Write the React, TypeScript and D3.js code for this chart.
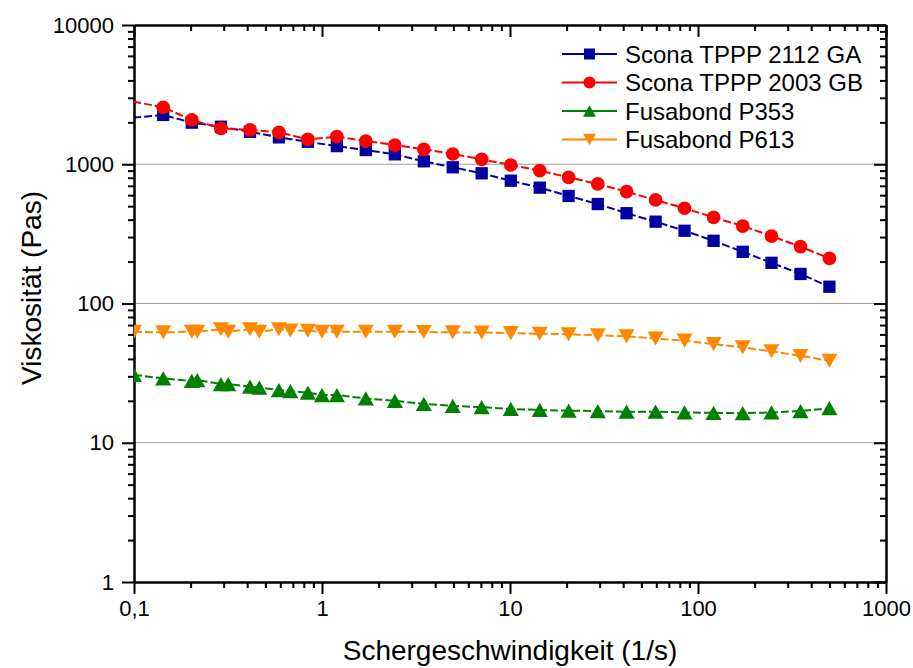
import React, { useEffect, useRef } from 'react';
import * as d3 from 'd3';

// shear rate (1/s) and viscosity (Pas)
const rateScona = [0.099, 0.143, 0.203, 0.29, 0.414, 0.59, 0.841, 1.2, 1.71, 2.44, 3.48, 4.96, 7.07, 10.1, 14.4, 20.5, 29.3, 41.7, 59.5, 84.8, 121, 173, 246, 351, 500];
const viscScona2112 = [2160, 2260, 1990, 1860, 1710, 1560, 1450, 1350, 1265, 1178, 1050, 951, 861, 762, 679, 592, 518, 445, 387, 333, 282, 235, 196, 163, 132];
const viscScona2003 = [2820, 2565, 2080, 1812, 1763, 1695, 1510, 1578, 1468, 1374, 1280, 1185, 1085, 988, 899, 806, 722, 635, 554, 483, 416, 360, 305, 256, 211];

const rateFusabond = [0.1, 0.143, 0.203, 0.217, 0.29, 0.317, 0.414, 0.464, 0.59, 0.679, 0.841, 1.0, 1.2, 1.71, 2.44, 3.48, 4.96, 7.07, 10.1, 14.4, 20.5, 29.3, 41.7, 59.5, 84.8, 121, 173, 246, 351, 500];
const viscP353 = [30.7, 29.0, 27.8, 28.2, 26.4, 26.4, 25.3, 24.9, 23.9, 23.5, 22.9, 22.0, 22.0, 20.8, 20.0, 19.0, 18.4, 18.0, 17.5, 17.2, 17.0, 16.9, 16.7, 16.7, 16.5, 16.4, 16.3, 16.5, 16.9, 17.7];
const viscP613 = [62.7, 62.0, 62.7, 62.7, 65.3, 62.7, 65.3, 62.7, 65.3, 64.0, 63.7, 62.7, 62.7, 62.7, 62.7, 62.4, 62.0, 61.9, 61.3, 60.7, 60.1, 59.1, 58.1, 56.0, 54.1, 51.1, 48.4, 45.4, 42.0, 38.8];

const seriesNames = ['Scona TPPP 2112 GA', 'Scona TPPP 2003 GB', 'Fusabond P353', 'Fusabond P613'];
const seriesColors = ['#0000a0', '#ff0000', '#008000', '#ff8800'];
const seriesSymbols = ['square', 'circle', 'triangleUp', 'triangleDown'];

const xTicks = [0.1, 1, 10, 100, 1000];
const xTickLabels = ['0,1', '1', '10', '100', '1000'];
const yTicks = [1, 10, 100, 1000, 10000];
const yTickLabels = ['1', '10', '100', '1000', '10000'];

const W = 913;
const H = 668;
const left = 134, right = 886, top = 25, bottom = 582;
const FONT = "Arial, 'Liberation Sans', sans-serif";

// marker outline centred on its box; s = box width
function symbolPath(type: string, s: number) {
  const h = s / 2;
  if (type === 'square') return `M${-h},${-h}H${h}V${h}H${-h}Z`;
  if (type === 'circle') return d3.symbol(d3.symbolCircle, Math.PI * h * h)()!;
  const t = s * 0.44;
  if (type === 'triangleUp') return `M0,${-t}L${h},${t}L${-h},${t}Z`;
  return `M0,${t}L${h},${-t}L${-h},${-t}Z`;
}

const markerSize = [12.3, 13.7, 16.2, 16];
const legendMarkerSize = [11, 12, 13, 13];

const App: React.FC = () => {
  const svgRef = useRef<SVGSVGElement | null>(null);

  useEffect(() => {
    const svg = d3.select(svgRef.current);
    svg.selectAll('*').remove();

    const x = d3.scaleLog().domain([0.1, 1000]).range([left, right]);
    const y = d3.scaleLog().domain([1, 10000]).range([bottom, top]);

    const minor = (majors: number[]) =>
      majors.slice(0, -1).flatMap((d) => d3.range(2, 10).map((k) => k * d));

    svg.append('defs').append('clipPath').attr('id', 'plotclip')
      .append('rect').attr('x', left).attr('y', top).attr('width', right - left).attr('height', bottom - top);

    // grid
    svg.append('g').selectAll('line')
      .data([10, 100, 1000])
      .enter().append('line')
      .attr('x1', left).attr('x2', right)
      .attr('y1', (d) => y(d)).attr('y2', (d) => y(d))
      .attr('stroke', '#a0a0a0').attr('stroke-width', 1);

    const styleAxis = (g: any) => {
      g.select('.domain').attr('stroke', '#000').attr('stroke-width', 2);
      g.selectAll('.tick line').attr('stroke', '#000').attr('stroke-width', 2);
      g.selectAll('.tick text').attr('font-family', FONT).attr('font-size', 22).attr('fill', '#000');
    };

    // bottom
    svg.append('g').attr('transform', `translate(0,${bottom})`)
      .call(d3.axisBottom(x).tickValues(xTicks).tickSize(12).tickSizeOuter(0).tickPadding(6)
        .tickFormat((_, i) => xTickLabels[i]))
      .call(styleAxis);
    svg.append('g').attr('transform', `translate(0,${bottom})`)
      .call(d3.axisBottom(x).tickValues(minor(xTicks)).tickSize(6).tickSizeOuter(0).tickFormat(() => ''))
      .call(styleAxis);
    // top (inward)
    svg.append('g').attr('transform', `translate(0,${top})`)
      .call(d3.axisTop(x).tickValues(xTicks).tickSize(-12).tickSizeOuter(0).tickFormat(() => ''))
      .call(styleAxis);
    svg.append('g').attr('transform', `translate(0,${top})`)
      .call(d3.axisTop(x).tickValues(minor(xTicks)).tickSize(-6).tickSizeOuter(0).tickFormat(() => ''))
      .call(styleAxis);
    // left
    svg.append('g').attr('transform', `translate(${left},0)`)
      .call(d3.axisLeft(y).tickValues(yTicks).tickSize(12).tickSizeOuter(0).tickPadding(8)
        .tickFormat((_, i) => yTickLabels[i]))
      .call(styleAxis);
    svg.append('g').attr('transform', `translate(${left},0)`)
      .call(d3.axisLeft(y).tickValues(minor(yTicks)).tickSize(6).tickSizeOuter(0).tickFormat(() => ''))
      .call(styleAxis);
    // right (inward)
    svg.append('g').attr('transform', `translate(${right},0)`)
      .call(d3.axisRight(y).tickValues(yTicks).tickSize(-12).tickSizeOuter(0).tickFormat(() => ''))
      .call(styleAxis);
    svg.append('g').attr('transform', `translate(${right},0)`)
      .call(d3.axisRight(y).tickValues(minor(yTicks)).tickSize(-6).tickSizeOuter(0).tickFormat(() => ''))
      .call(styleAxis);

    // series
    const series = [
      { rate: rateScona, visc: viscScona2112 },
      { rate: rateScona, visc: viscScona2003 },
      { rate: rateFusabond, visc: viscP353 },
      { rate: rateFusabond, visc: viscP613 },
    ];
    const line = d3.line<[number, number]>().x((d) => x(d[0])).y((d) => y(d[1]));
    const plot = svg.append('g').attr('clip-path', 'url(#plotclip)');

    series.forEach((s, i) => {
      const pts: [number, number][] = s.rate.map((r, j) => [r, s.visc[j]]);
      plot.append('path').attr('d', line(pts))
        .attr('fill', 'none').attr('stroke', seriesColors[i]).attr('stroke-width', 2)
        .attr('stroke-dasharray', '8,3');
      plot.append('g').selectAll('path')
        .data(pts.filter((d) => d[0] >= 0.1))
        .enter().append('path')
        .attr('transform', (d) => `translate(${x(d[0])},${y(d[1])})`)
        .attr('d', symbolPath(seriesSymbols[i], markerSize[i]))
        .attr('fill', seriesColors[i]);
    });

    // legend
    const legend = svg.append('g');
    seriesNames.forEach((name, i) => {
      const ly = 54 + i * 28.5;
      legend.append('line').attr('x1', 562).attr('x2', 617).attr('y1', ly).attr('y2', ly)
        .attr('stroke', seriesColors[i]).attr('stroke-width', 2);
      legend.append('path').attr('transform', `translate(589.5,${ly})`)
        .attr('d', symbolPath(seriesSymbols[i], legendMarkerSize[i])).attr('fill', seriesColors[i]);
      legend.append('text').attr('x', 625).attr('y', ly).attr('dy', '0.36em')
        .attr('font-family', FONT).attr('font-size', 24).text(name);
    });

    // axis titles
    svg.append('text').attr('x', (left + right) / 2).attr('y', 660)
      .attr('text-anchor', 'middle').attr('font-family', FONT).attr('font-size', 28)
      .text('Schergeschwindigkeit (1/s)');
    svg.append('text').attr('transform', `translate(41,288) rotate(-90)`)
      .attr('text-anchor', 'middle').attr('font-family', FONT).attr('font-size', 28)
      .text('Viskosität (Pas)');
  }, []);

  return (
    <svg ref={svgRef} width={W} height={H}
      style={{ position: 'absolute', left: 0, top: 0, background: '#fff' }} />
  );
};

export default App;
